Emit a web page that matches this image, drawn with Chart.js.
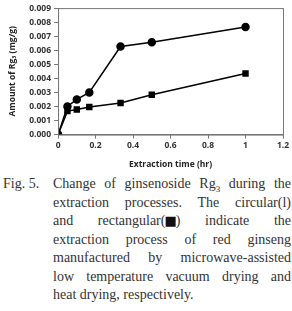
<!DOCTYPE html>
<html>
<head>
<meta charset="utf-8">
<script src="https://cdn.jsdelivr.net/npm/chart.js@4"></script>
<style>
  body { margin: 0; width: 292px; height: 311px; background: #fff; overflow: hidden; }
  .chartBox { position: relative; width: 292px; height: 170px; }
  .caption {
    position: absolute; left: 0; top: 175px; width: 291px;
    font-family: "Liberation Serif", "DejaVu Serif", serif; font-size: 14px;
    line-height: 18.5px; color: #333;
  }
  .caption .row { display: flex; }
  .caption .lab { width: 53px; flex: none; padding-left: 3px; box-sizing: border-box; }
  .caption .txt { flex: 1; }
  .caption .txt span.ln { display: block; text-align: justify; text-align-last: justify; }
  .caption .txt span.last { text-align-last: left; }
  .caption .word { display: inline-block; }
  .caption .sq { font-family: "DejaVu Sans", sans-serif; font-size: 13px; margin: 0 -1px; color: #111; }
</style>
</head>
<body>
<div class="chartBox"><canvas id="myChart"></canvas></div>
<div class="caption">
  <div class="row">
    <div class="lab">Fig. 5.</div>
    <div class="txt">
      <span class="ln">Change of ginsenoside Rg<sub style="font-size:9px;line-height:0">3</sub> during the</span>
      <span class="ln">extraction processes. The circular(l)</span>
      <span class="ln">and <span class="word">rectangular(<span class="sq">&#9632;</span>)</span> indicate the</span>
      <span class="ln">extraction process of red ginseng</span>
      <span class="ln">manufactured by microwave-assisted</span>
      <span class="ln">low temperature vacuum drying and</span>
      <span class="ln last">heat drying, respectively.</span>
    </div>
  </div>
</div>
<script>
//Data
var timeHr = [0, 0.05, 0.1, 0.1667, 0.3333, 0.5, 1];
var microwaveRg3 = [0, 0.0020, 0.0025, 0.0030, 0.00627, 0.00657, 0.00765];
var heatRg3 = [0, 0.00167, 0.00178, 0.00197, 0.00225, 0.00283, 0.00435];

var xTitle = "Extraction time (hr)";
var yTitle = "Amount of Rg\u2083 (mg/g)";

function toPoints(xs, ys) {
  var pts = [];
  for (var i = 0; i < xs.length; i++) {
    pts.push({x: xs[i], y: ys[i]});
  }
  return pts;
}

//Draws the box around the plot area
var frameBox = {
  id: 'frameBox',
  afterDraw: function (chart) {
    var a = chart.chartArea;
    var ctx = chart.ctx;
    ctx.save();
    ctx.strokeStyle = '#777';
    ctx.lineWidth = 1;
    ctx.strokeRect(a.left + 0.5, a.top + 0.5, a.right - a.left, a.bottom - a.top);
    ctx.restore();
  }
};

var tickFont = {family: 'Open Sans, DejaVu Sans, sans-serif', size: 8.5, weight: 'bold'};

var ctx = document.getElementById('myChart').getContext('2d');
var myChart = new Chart(ctx, {
  type: 'line',
  data: {
    datasets: [{
      label: 'microwave',
      data: toPoints(timeHr, microwaveRg3),
      borderColor: '#000',
      backgroundColor: '#000',
      borderWidth: 1.5,
      pointStyle: 'circle',
      pointRadius: 3.5,
      tension: 0
    }, {
      label: 'heat',
      data: toPoints(timeHr, heatRg3),
      borderColor: '#000',
      backgroundColor: '#000',
      borderWidth: 1.5,
      pointStyle: 'rect',
      pointRadius: 3.5,
      tension: 0
    }]
  },
  options: {
    responsive: true,
    maintainAspectRatio: false,
    animation: false,
    layout: {padding: {top: 1, right: 9, left: 7, bottom: 0}},
    plugins: {legend: {display: false}, tooltip: {enabled: false}},
    scales: {
      x: {
        type: 'linear', min: 0, max: 1.2,
        ticks: {stepSize: 0.2, color: '#333', font: tickFont, padding: 2,
          callback: function (v) { return Math.round(v * 10) / 10; }},
        grid: {drawOnChartArea: false, tickLength: 4, color: '#777'},
        border: {color: '#777'},
        title: {display: true, text: xTitle, color: '#222', font: tickFont, padding: {top: 7, bottom: 0}}
      },
      y: {
        min: 0, max: 0.009,
        ticks: {stepSize: 0.001, color: '#333', font: tickFont, padding: 3,
          callback: function (v) { return v.toFixed(3); }},
        grid: {drawOnChartArea: false, tickLength: 4, color: '#777'},
        border: {color: '#777'},
        title: {display: true, text: yTitle, color: '#222', font: tickFont, padding: {top: 0, bottom: 9}}
      }
    }
  },
  plugins: [frameBox]
});
</script>
</body>
</html>
